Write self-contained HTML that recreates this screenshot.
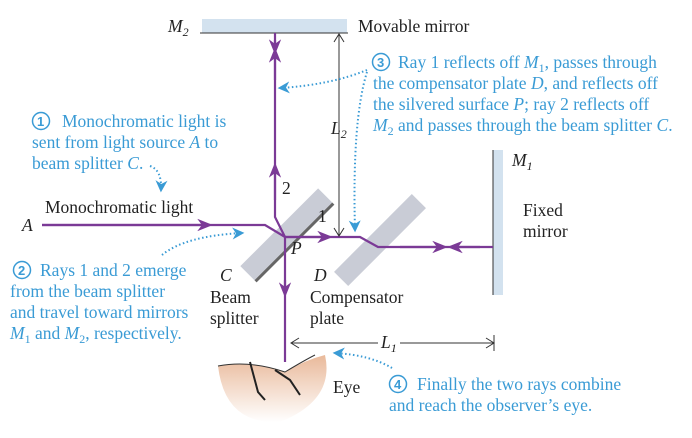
<!DOCTYPE html>
<html><head><meta charset="utf-8"><style>
body{margin:0;background:#fff}
svg{display:block}
svg text{font-family:"Liberation Serif","Times New Roman",serif;font-size:17.5px}
.b{fill:#3a9bd5}.k{fill:#222}
.ray{stroke:#7b3a96;stroke-width:2.2;fill:none}
.dot{stroke:#3a9bd5;stroke-width:2;stroke-dasharray:1.5 2.5;fill:none}
svg text.n{font-family:"Liberation Sans",sans-serif;font-size:13px;font-weight:bold}
</style></head><body>
<svg width="692" height="438" viewBox="0 0 692 438" font-family="Liberation Serif, serif">
<defs>
<marker id="ah" viewBox="0 0 10 10" refX="5" refY="5" markerWidth="7" markerHeight="7" orient="auto"><path d="M0,1 L10,5 L0,9 L3,5 z" fill="#7b3a96"/></marker>
<marker id="bh" viewBox="0 0 10 10" refX="8" refY="5" markerWidth="6" markerHeight="6" orient="auto"><path d="M0,0 L10,5 L0,10 L3,5 z" fill="#3a9bd5"/></marker>
<linearGradient id="eg" x1="0" y1="0" x2="0" y2="1"><stop offset="0" stop-color="#e9b99a"/><stop offset="1" stop-color="#fff"/></linearGradient>
</defs>
<g>
<rect x="202" y="19" width="145" height="14" fill="#d3e2ef"/>
<line x1="200" y1="33" x2="348" y2="33" stroke="#333" stroke-width="1"/>
<text x="168" y="32" class="k" font-style="italic">M<tspan font-size="12" dy="4">2</tspan></text>
<text x="358" y="32" class="k">Movable mirror</text></g>
<g>
<rect x="493" y="150" width="10" height="145" fill="#d3e2ef"/>
<line x1="493" y1="150" x2="493" y2="295" stroke="#333"/>
<text x="512" y="166" class="k" font-style="italic">M<tspan font-size="12" dy="4">1</tspan></text>
<text x="523" y="216" class="k">Fixed</text><text x="523" y="237" class="k">mirror</text></g>
<g transform="rotate(-45 287 235)">
<rect x="232" y="224" width="110" height="20" fill="#c9ccd6"/>
<rect x="232" y="244" width="110" height="3" fill="#666"/></g>
<g transform="rotate(-45 380 240)">
<rect x="325" y="230" width="110" height="20" fill="#c9ccd6"/></g>
<g>
<path class="ray" d="M42,225 L265,225 L285,237 L360,237 L378,247 L493,247"/>
<path class="ray" d="M285,237 L275,217 L275,33"/>
<path class="ray" d="M285,237 L285,362"/>
<line class="ray" x1="42" y1="225" x2="205" y2="225" marker-end="url(#ah)"/>
<line class="ray" x1="285" y1="237" x2="325" y2="237" marker-end="url(#ah)"/>
<line class="ray" x1="400" y1="247" x2="440" y2="247" marker-end="url(#ah)"/>
<line class="ray" x1="480" y1="247" x2="455" y2="247" marker-end="url(#ah)"/>
<line class="ray" x1="275" y1="200" x2="275" y2="170" marker-end="url(#ah)"/>
<line class="ray" x1="275" y1="80" x2="275" y2="55" marker-end="url(#ah)"/>
<line class="ray" x1="275" y1="40" x2="275" y2="47" marker-end="url(#ah)"/>
<line class="ray" x1="285" y1="280" x2="285" y2="290" marker-end="url(#ah)"/>
</g>
<text x="22" y="231" class="k" font-style="italic">A</text>
<text x="45" y="213" class="k">Monochromatic light</text>
<text x="282" y="194" class="k">2</text>
<text x="318" y="222" class="k">1</text>
<text x="291" y="254" class="k" font-style="italic">P</text>
<text x="220" y="281" class="k" font-style="italic">C</text>
<text x="210" y="303" class="k">Beam</text><text x="210" y="324" class="k">splitter</text>
<text x="314" y="281" class="k" font-style="italic">D</text>
<text x="310" y="303" class="k">Compensator</text><text x="310" y="324" class="k">plate</text>
<g stroke="#333" fill="none">
<line x1="339" y1="34" x2="339" y2="236"/><path d="M334,42 L339,34 L344,42 M334,228 L339,236 L344,228"/></g>
<text x="331" y="134" class="k" font-style="italic">L<tspan font-size="12" dy="4">2</tspan></text>
<g stroke="#333" fill="none">
<line x1="291" y1="343" x2="378" y2="343"/><line x1="400" y1="343" x2="494" y2="343"/>
<path d="M299,338 L291,343 L299,348 M486,338 L494,343 L486,348 M494,335 L494,351"/></g>
<text x="381" y="348" class="k" font-style="italic">L<tspan font-size="12" dy="4">1</tspan></text>
<g>
<path d="M218,366 Q250,360 285,372 Q305,360 325,355 Q335,400 280,422 Q225,425 218,366 Z" fill="url(#eg)"/>
<path d="M218,366 Q250,360 285,372 Q305,360 315,355" stroke="#333" fill="none"/>
<path d="M250,362 L258,392 L265,400 M275,370 L290,380 L300,395" stroke="#222" stroke-width="2" fill="none"/>
<text x="333" y="393" class="k">Eye</text></g>
<g>
<circle cx="41" cy="121" r="8.5" fill="none" stroke="#3a9bd5" stroke-width="1.5"/><text x="37" y="126" class="b n">1</text>
<text x="62" y="127" class="b">Monochromatic light is</text>
<text x="32" y="148" class="b">sent from light source <tspan font-style="italic">A</tspan> to</text>
<text x="32" y="169" class="b">beam splitter <tspan font-style="italic">C</tspan>.</text>
<path class="dot" d="M150,166 Q162,170 161,190" marker-end="url(#bh)"/></g>
<g>
<circle cx="22" cy="270" r="8.5" fill="none" stroke="#3a9bd5" stroke-width="1.5"/><text x="18" y="275" class="b n">2</text>
<text x="40" y="276" class="b">Rays 1 and 2 emerge</text>
<text x="10" y="297" class="b">from the beam splitter</text>
<text x="10" y="318" class="b">and travel toward mirrors</text>
<text x="10" y="339" class="b"><tspan font-style="italic">M</tspan><tspan font-size="12" dy="4">1</tspan><tspan dy="-4"> and </tspan><tspan font-style="italic">M</tspan><tspan font-size="12" dy="4">2</tspan><tspan dy="-4">, respectively.</tspan></text>
<path class="dot" d="M162,255 Q185,236 242,233" marker-end="url(#bh)"/></g>
<g>
<circle cx="381" cy="62" r="8.5" fill="none" stroke="#3a9bd5" stroke-width="1.5"/><text x="377" y="67" class="b n">3</text>
<text x="398" y="68" class="b">Ray 1 reflects off <tspan font-style="italic">M</tspan><tspan font-size="12" dy="4">1</tspan><tspan dy="-4">, passes through</tspan></text>
<text x="373" y="89" class="b">the compensator plate <tspan font-style="italic">D</tspan>, and reflects off</text>
<text x="373" y="110" class="b">the silvered surface <tspan font-style="italic">P</tspan>; ray 2 reflects off</text>
<text x="373" y="131" class="b"><tspan font-style="italic">M</tspan><tspan font-size="12" dy="4">2</tspan><tspan dy="-4"> and passes through the beam splitter </tspan><tspan font-style="italic">C</tspan>.</text>
<path class="dot" d="M367,70 Q330,85 280,88" marker-end="url(#bh)"/>
<path class="dot" d="M367,72 Q352,120 355,230" marker-end="url(#bh)"/></g>
<g>
<circle cx="398" cy="384" r="8.5" fill="none" stroke="#3a9bd5" stroke-width="1.5"/><text x="394" y="389" class="b n">4</text>
<text x="417" y="390" class="b">Finally the two rays combine</text>
<text x="389" y="411" class="b">and reach the observer’s eye.</text>
<path class="dot" d="M392,368 Q370,355 335,353" marker-end="url(#bh)"/></g>
</svg>
</body></html>
